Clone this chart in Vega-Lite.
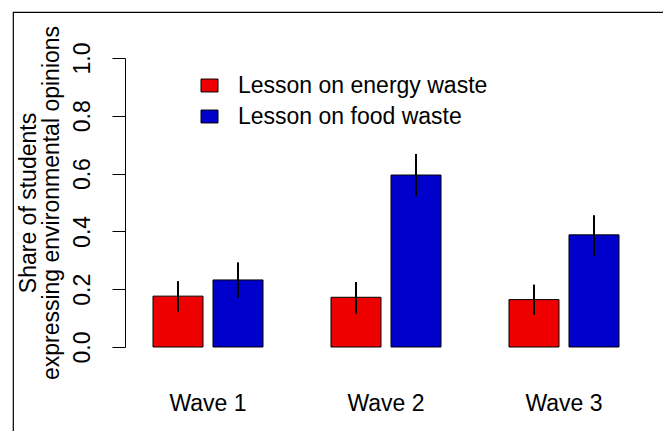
{
  "$schema": "https://vega.github.io/schema/vega-lite/v6.json",
  "autosize": "none",
  "width": 653,
  "height": 422,
  "padding": {"left": 13, "top": 12, "right": -3, "bottom": -3},
  "background": "white",
  "config": {
    "font": "Liberation Sans",
    "view": {"stroke": "black", "strokeWidth": 1.2}
  },
  "data": {
    "values": [
      {"wave": "Wave 1", "lesson": "Lesson on energy waste", "share": 0.176, "lo": 0.122, "hi": 0.228},
      {"wave": "Wave 1", "lesson": "Lesson on food waste", "share": 0.232, "lo": 0.171, "hi": 0.293},
      {"wave": "Wave 2", "lesson": "Lesson on energy waste", "share": 0.172, "lo": 0.115, "hi": 0.225},
      {"wave": "Wave 2", "lesson": "Lesson on food waste", "share": 0.595, "lo": 0.522, "hi": 0.668},
      {"wave": "Wave 3", "lesson": "Lesson on energy waste", "share": 0.164, "lo": 0.112, "hi": 0.216},
      {"wave": "Wave 3", "lesson": "Lesson on food waste", "share": 0.388, "lo": 0.315, "hi": 0.456}
    ]
  },
  "encoding": {
    "x": {
      "field": "wave",
      "type": "nominal",
      "scale": {"range": [140, 606], "paddingInner": 0.382, "paddingOuter": 0},
      "axis": {
        "title": null,
        "orient": "bottom",
        "domain": false,
        "ticks": false,
        "tickSize": 0,
        "labelAngle": 0,
        "labelFontSize": 23,
        "labelColor": "black",
        "labelBaseline": "middle",
        "labelPadding": 0,
        "offset": -31
      }
    },
    "xOffset": {
      "field": "lesson",
      "type": "nominal",
      "scale": {"paddingInner": 0.1667, "paddingOuter": 0}
    }
  },
  "layer": [
    {
      "mark": {"type": "bar", "stroke": "black", "strokeWidth": 1},
      "encoding": {
        "y": {
          "field": "share",
          "type": "quantitative",
          "scale": {"domain": [0, 1], "range": [335, 46]},
          "axis": {
            "title": ["Share of students", "expressing environmental opinions"],
            "titleFontSize": 23,
            "titleFontWeight": "normal",
            "titleColor": "black",
            "titleLineHeight": 23,
            "titlePadding": 8,
            "values": [0, 0.2, 0.4, 0.6, 0.8, 1.0],
            "format": ".1f",
            "grid": false,
            "offset": -112,
            "tickSize": 13,
            "tickColor": "black",
            "tickWidth": 1,
            "domainColor": "black",
            "domainWidth": 1,
            "labelAngle": -90,
            "labelAlign": "center",
            "labelBaseline": "bottom",
            "labelFontSize": 23,
            "labelColor": "black",
            "labelPadding": 18
          }
        },
        "color": {
          "field": "lesson",
          "type": "nominal",
          "scale": {"domain": ["Lesson on energy waste", "Lesson on food waste"], "range": ["#EE0000", "#0000CD"]},
          "legend": {
            "title": null,
            "orient": "none",
            "legendX": 185,
            "legendY": 62,
            "padding": 0,
            "symbolType": "M-1,-0.76L1,-0.76L1,0.76L-1,0.76Z",
            "symbolSize": 289,
            "symbolStrokeColor": "black",
            "symbolStrokeWidth": 1,
            "symbolOpacity": 1,
            "labelFontSize": 23,
            "labelColor": "black",
            "labelOffset": 17,
            "labelLimit": 0,
            "rowPadding": 7
          }
        }
      }
    },
    {
      "mark": {"type": "rule", "color": "black", "strokeWidth": 2},
      "encoding": {
        "y": {"field": "lo", "type": "quantitative"},
        "y2": {"field": "hi"}
      }
    }
  ]
}
